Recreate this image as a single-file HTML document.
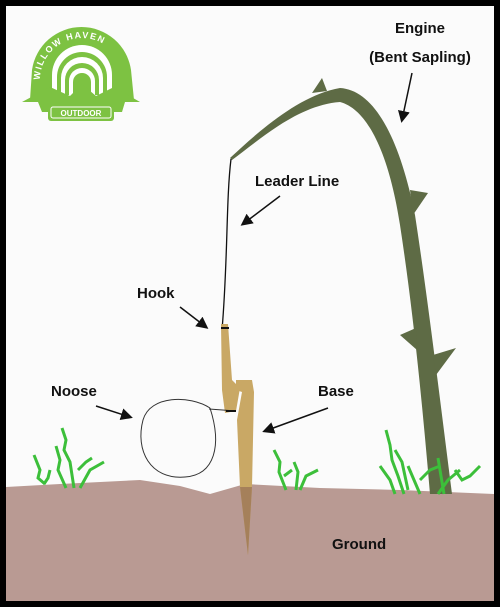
<!DOCTYPE html>
<html><head><meta charset="utf-8"><style>
html,body{margin:0;padding:0;background:#000;}
svg{display:block;}
text{font-family:"Liberation Sans",sans-serif;font-weight:bold;fill:#111;}
</style></head><body>
<svg width="500" height="607" viewBox="0 0 500 607">
<defs><marker id="ah" markerWidth="8" markerHeight="8" refX="6" refY="4" orient="auto"><path d="M0,0 L8,4 L0,8 Z" fill="#111"/></marker></defs>
<rect x="0" y="0" width="500" height="607" fill="#000"/>
<rect x="6" y="6" width="488" height="595" fill="#fbfbfb"/>
<path d="M6,487 L60,484 L140,480 L180,486 L210,494 L245,484 L320,488 L400,490 L494,494 L494,601 L6,601 Z" fill="#b99a93"/>
<g>
<path d="M30,100 L32,70 A50,50 0 0 1 131,70 L134,100 L118,92 L82,82 L46,92 Z" fill="#7dc242"/>
<path d="M52,95 L52,75 A30,30 0 0 1 112,75 L112,95 Z" fill="#fff"/>
<path d="M57,95 L57,77 A25,25 0 0 1 107,77 L107,95 Z" fill="#7dc242"/>
<path d="M61,95 L61,78 A21,21 0 0 1 103,78 L103,95 Z" fill="#fff"/>
<path d="M65,95 L65,80 A17,17 0 0 1 99,80 L99,95 Z" fill="#7dc242"/>
<path d="M69,95 L69,81 A13,13 0 0 1 95,81 L95,95 Z" fill="#fff"/>
<path d="M73,95 L73,82 A9,9 0 0 1 91,82 L91,95 Z" fill="#7dc242"/>
<path d="M22,102 L50,87 L70,96 L82,84 L96,96 L114,87 L140,102 L125,102 L122,112 L42,112 L38,102 Z" fill="#7dc242"/>
<rect x="48" y="104" width="66" height="17" rx="3" fill="#7dc242"/>
<rect x="51" y="107" width="60" height="11" rx="2" fill="none" stroke="#fff" stroke-width="1"/>
<text x="81" y="116" font-size="8" text-anchor="middle" style="fill:#fff">OUTDOOR</text>
<path id="arc" d="M40,80 A42,42 0 0 1 124,80" fill="none"/>
<text font-size="9" style="fill:#fff" letter-spacing="1.5"><textPath href="#arc">WILLOW HAVEN</textPath></text>
</g>
<path d="M230,158 C260,130 300,95 340,88 C375,90 400,140 415,215 C428,300 440,400 452,494 L430,494 C422,400 413,310 400,225 C390,160 370,110 340,102 C300,105 265,135 232,160 Z" fill="#5e6b45"/>
<path d="M312,93 L322,78 L327,91 Z M410,190 L428,193 L413,215 Z M416,328 L400,335 L417,350 Z M433,355 L456,348 L436,375 Z" fill="#5e6b45"/>
<path d="M231,159 C226,200 228,260 222,330" fill="none" stroke="#111" stroke-width="1.3"/>
<path d="M221,324 L228,324 L232,380 L240,388 L236,411 L225,413 L222,390 Z" fill="#c9a865"/>
<line x1="221" y1="328" x2="229" y2="328" stroke="#111" stroke-width="2"/>
<path d="M236,380 L252,380 L254,392 L252,487 L248,555 L240,487 L237,420 L242,392 L236,390 Z" fill="#c9a865"/>
<path d="M240,487 L252,487 L248,555 Z" fill="#a5805a"/>
<path d="M210,408 C190,395 150,395 143,420 C135,450 150,480 185,477 C215,475 222,445 210,408" fill="none" stroke="#333" stroke-width="1"/>
<line x1="209" y1="409" x2="236" y2="411" stroke="#333" stroke-width="1"/>
<line x1="226" y1="411" x2="236" y2="411" stroke="#111" stroke-width="2"/>
<g fill="none" stroke="#3cbf3a" stroke-width="3">
<path d="M34,455 L40,470 L38,478 L45,484 M50,470 L48,478 L44,484 M62,428 L66,440 L64,450 L70,462 L74,488 M56,446 L60,460 L58,470 L66,488 M78,470 L86,462 L92,458 M80,488 L90,470 L104,462"/>
<path d="M274,450 L280,462 L279,472 L286,490 M294,462 L298,472 L296,490 M284,476 L292,470 M300,490 L306,476 L318,470"/>
<path d="M386,430 L390,445 L392,460 L398,476 L404,494 M395,450 L402,462 L408,490 M380,466 L390,480 L395,494 M408,466 L414,480 L420,494 M420,480 L430,470 L440,466 M438,458 L440,470 L444,494 M438,494 L448,480 L460,470 M455,470 L462,480 L470,476 L480,466"/>
</g>
<text x="420" y="33" font-size="15" text-anchor="middle">Engine</text>
<text x="420" y="62" font-size="15" text-anchor="middle">(Bent Sapling)</text>
<line x1="412" y1="73" x2="402" y2="120" stroke="#111" stroke-width="1.5" marker-end="url(#ah)"/>
<text x="255" y="186" font-size="15">Leader Line</text>
<line x1="280" y1="196" x2="243" y2="224" stroke="#111" stroke-width="1.5" marker-end="url(#ah)"/>
<text x="137" y="298" font-size="15">Hook</text>
<line x1="180" y1="307" x2="206" y2="327" stroke="#111" stroke-width="1.5" marker-end="url(#ah)"/>
<text x="51" y="396" font-size="15">Noose</text>
<line x1="96" y1="406" x2="130" y2="417" stroke="#111" stroke-width="1.5" marker-end="url(#ah)"/>
<text x="318" y="396" font-size="15">Base</text>
<line x1="328" y1="408" x2="265" y2="431" stroke="#111" stroke-width="1.5" marker-end="url(#ah)"/>
<text x="332" y="549" font-size="15">Ground</text>
</svg>
</body></html>
